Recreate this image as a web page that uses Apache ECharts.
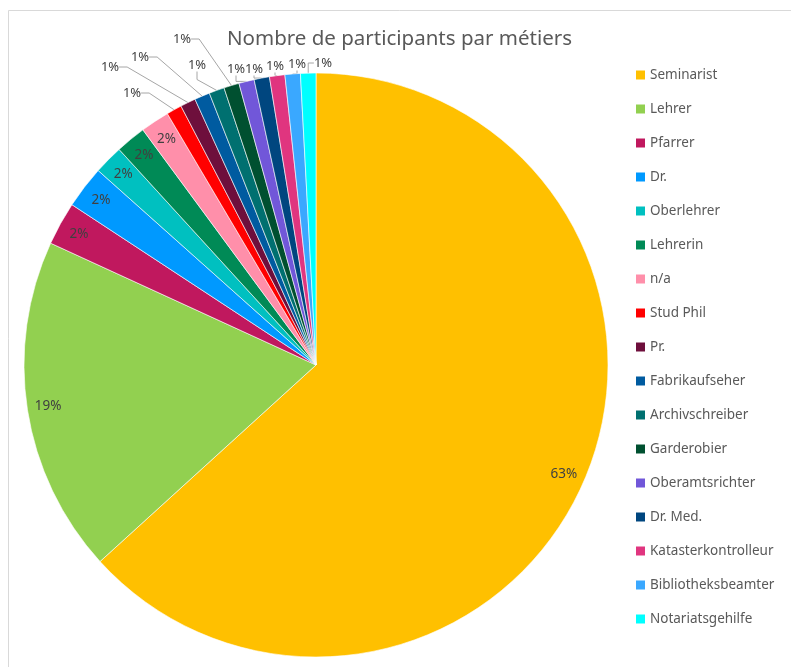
<!DOCTYPE html>
<html>
<head>
<meta charset="utf-8">
<script src="https://cdn.jsdelivr.net/npm/echarts@6/dist/echarts.min.js"></script>
<style>
html,body{margin:0;padding:0;background:#fff;}
#chart{width:791px;height:667px;}
</style>
</head>
<body>
<div id="chart"></div>
<script>
// ---- data (shares) ----
const categories = ["Seminarist","Lehrer","Pfarrer","Dr.","Oberlehrer","Lehrerin","n/a","Stud Phil","Pr.","Fabrikaufseher","Archivschreiber","Garderobier","Oberamtsrichter","Dr. Med.","Katasterkontrolleur","Bibliotheksbeamter","Notariatsgehilfe"];
const shares = [63.25,18.6,2.4,2.35,1.62,1.68,1.6,0.85,0.85,0.85,0.85,0.85,0.85,0.85,0.85,0.85,0.85];

// ---- style ----
const colors = ["#FFC000","#92D050","#C0185E","#0099FF","#00C0C0","#008A56","#FF8FAA","#FF0000","#6E0F3C","#005BA0","#007070","#005030","#7157D9","#00467F","#E0357F","#3AA8FF","#00FFFF"];
// text-centre positions for the outside "1%" labels (by category)
const outsideLabelSpots = {
  "Stud Phil":[132,93], "Pr.":[110,67], "Fabrikaufseher":[140,57], "Archivschreiber":[197,65],
  "Garderobier":[182,39], "Oberamtsrichter":[236,69], "Dr. Med.":[254,69], "Katasterkontrolleur":[275,66],
  "Bibliotheksbeamter":[297,64], "Notariatsgehilfe":[323,63]
};

const total = shares.reduce((a,b)=>a+b,0);
const pct = v => Math.round(v/total*100) + '%';
const center = [316,365];
const R = 292;

const mainData = categories.map((c,i)=>({
  name:c, value:shares[i],
  itemStyle:{color:colors[i]},
  label:{show: !!outsideLabelSpots[c]},
  labelLine:{show: !!outsideLabelSpots[c]}
}));
const overlayData = categories.map((c,i)=>({
  name:c, value:shares[i],
  label:{show: !outsideLabelSpots[c]}
}));

const chart = echarts.init(document.getElementById('chart'), null, {renderer:'canvas'});
chart.setOption({
  animation:false,
  backgroundColor:'#fff',
  color: colors,
  graphic:[
    {type:'line', shape:{x1:8.5,y1:10.5,x2:791,y2:10.5}, style:{stroke:'#d9d9d9',lineWidth:1}, silent:true},
    {type:'line', shape:{x1:8.5,y1:10.5,x2:8.5,y2:667}, style:{stroke:'#d9d9d9',lineWidth:1}, silent:true}
  ],
  title:{
    text:'Nombre de participants par métiers',
    left:227, top:29,
    padding:0,
    textStyle:{fontFamily:'Noto Sans', fontSize:20.5, fontWeight:'normal', color:'#595959'}
  },
  legend:{
    orient:'vertical',
    left:636, top:67,
    padding:0,
    itemWidth:9, itemHeight:9,
    itemGap:18,
    icon:'rect',
    selectedMode:false,
    data:categories,
    itemStyle:{borderWidth:0},
    textStyle:{fontFamily:'Noto Sans', fontSize:13.5, color:'#595959', lineHeight:16}
  },
  series:[
    {
      type:'pie',
      center:center,
      radius:[0,R],
      startAngle:90,
      clockwise:true,
      avoidLabelOverlap:false,
      silent:true,
      data:mainData,
      itemStyle:{borderColor:'#ffffff', borderWidth:0.6},
      label:{
        position:'outside',
        formatter: p => pct(p.value),
        fontFamily:'Noto Sans', fontSize:13, color:'#404040'
      },
      labelLine:{length:8, length2:8, lineStyle:{color:'#a6a6a6', width:1}},
      labelLayout: function(p){
        const s = outsideLabelSpots[categories[p.dataIndex]];
        if(!s) return {};
        return {x:s[0], y:s[1], align:'center', verticalAlign:'middle'};
      }
    },
    {
      type:'pie',
      center:center,
      radius:[244,R],
      startAngle:90,
      clockwise:true,
      silent:true,
      data:overlayData,
      itemStyle:{color:'rgba(0,0,0,0)', borderWidth:0},
      label:{
        position:'inside',
        formatter: p => pct(p.value),
        fontFamily:'Noto Sans', fontSize:13.5, color:'#404040'
      },
      labelLine:{show:false}
    }
  ]
});
</script>
</body>
</html>
